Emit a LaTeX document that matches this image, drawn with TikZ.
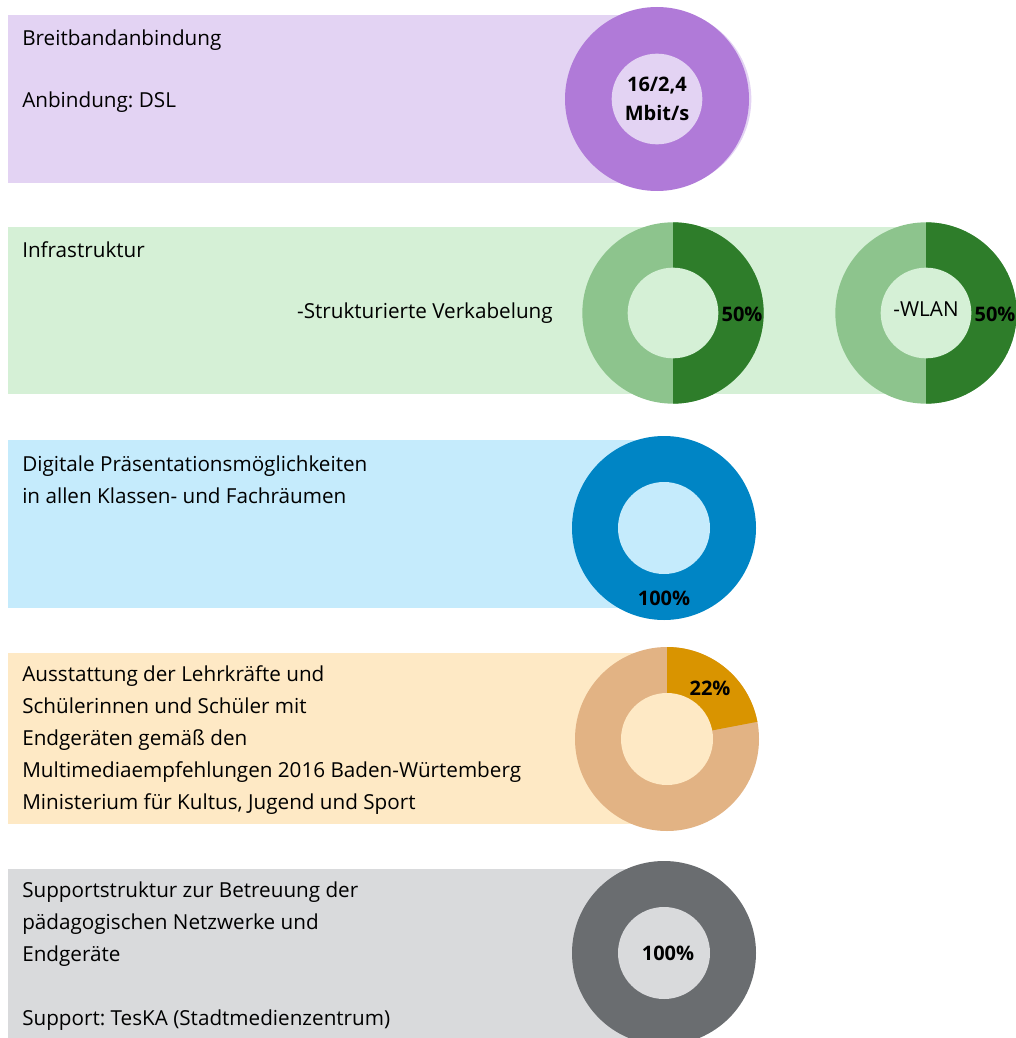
\documentclass[tikz,border=0pt]{standalone}
\usepackage{fontspec}
\setmainfont{Open Sans}
\usetikzlibrary{positioning}
\frenchspacing

\definecolor{lilahell}{HTML}{E3D3F3}
\definecolor{lila}{HTML}{B07AD8}
\definecolor{gruenhell}{HTML}{D5F0D6}
\definecolor{gruen}{HTML}{2E7D2A}
\definecolor{gruenmittel}{HTML}{8DC48D}
\definecolor{blauhell}{HTML}{C5EBFC}
\definecolor{blau}{HTML}{0085C5}
\definecolor{orangehell}{HTML}{FEE9C5}
\definecolor{orange}{HTML}{D99400}
\definecolor{orangemittel}{HTML}{E2B384}
\definecolor{grauhell}{HTML}{D9DADC}
\definecolor{grau}{HTML}{6A6D70}

\begin{document}
\begin{tikzpicture}[
        x=0.75pt, y=-0.75pt,
        txt/.style={anchor=west, align=left, inner sep=0pt, font=\fontsize{15.5}{24}\selectfont},
        pct/.style={inner sep=0pt, align=center, font=\fontsize{15}{22}\selectfont\bfseries}
    ]
    \useasboundingbox (0,0) rectangle (1016,1038);
    \clip (0,0) rectangle (1016,1038);

    % Baender
    \fill[lilahell] (8,15) rectangle (657,183);
    \fill[gruenhell] (8,227) rectangle (926,394);
    \fill[blauhell] (8,440) rectangle (664,608);
    \fill[orangehell] (8,653) rectangle (667,824);
    \fill[grauhell] (8,869) rectangle (664,1038);

    % Ringe
    \coordinate (ring1) at (657,99);
    \coordinate (ring2a) at (673,313);
    \coordinate (ring2b) at (926,313);
    \coordinate (ring3) at (664,528);
    \coordinate (ring4) at (667,739);
    \coordinate (ring5) at (664,953);

    \fill[lilahell] (662,99) circle (67pt);
    \fill[lila] (ring1) circle (69pt);
    \fill[lilahell] (ring1) circle (34pt);

    \fill[gruenmittel] (ring2a) circle (68pt);
    \fill[gruen] (ring2a) -- ++(90:68pt) arc[start angle=90, end angle=-90, radius=68pt] -- cycle;
    \fill[gruenhell] (ring2a) circle (34pt);

    \fill[gruenmittel] (ring2b) circle (68pt);
    \fill[gruen] (ring2b) -- ++(90:68pt) arc[start angle=90, end angle=-90, radius=68pt] -- cycle;
    \fill[gruenhell] (ring2b) circle (34pt);

    \fill[blau] (ring3) circle (69pt);
    \fill[blauhell] (ring3) circle (34.5pt);

    \fill[orangemittel] (ring4) circle (69pt);
    \fill[orange] (ring4) -- ++(90:69pt) arc[start angle=90, end angle=10.8, radius=69pt] -- cycle;
    \fill[orangehell] (ring4) circle (34.5pt);

    \fill[grau] (ring5) circle (69pt);
    \fill[grauhell] (ring5) circle (34.5pt);

    % Texte
    \node[txt] (breit) at (22,40) {Breitbandanbindung};
    \node[txt] (dsl) at (22,102) {Anbindung: DSL};
    \node[txt] (infra) at (22,250) {Infrastruktur};
    \node[txt, anchor=east] (verk) at (553,313) {-Strukturierte Verkabelung};
    \node[txt] (praes) at (22,480) {Digitale Präsentationsmöglichkeiten\\in allen Klassen- und Fachräumen};
    \node[txt] (ausst) at (22,740) {Ausstattung der Lehrkräfte und\\Schülerinnen und Schüler mit\\Endgeräten gemäß den\\Multimediaempfehlungen 2016 Baden-Würtemberg\\Ministerium für Kultus, Jugend und Sport};
    \node[txt] (support) at (22,956) {Supportstruktur zur Betreuung der\\pädagogischen Netzwerke und\\Endgeräte\\\mbox{}\\Support: TesKA (Stadtmedienzentrum)};

    % Werte
    \node[pct] (bw) at (ring1) {16/2,4\\Mbit/s};
    \node[pct] (verkwert) at (742,314) {50\%};
    \node[txt, anchor=center] (wlan) at (926,309) {-WLAN};
    \node[pct] (wlanwert) at (995,314) {50\%};
    \node[pct] (praeswert) at (664,598) {100\%};
    \node[pct] (ausstwert) at (710,688) {22\%};
    \node[pct] (supportwert) at (668,953) {100\%};

\end{tikzpicture}
\end{document}
